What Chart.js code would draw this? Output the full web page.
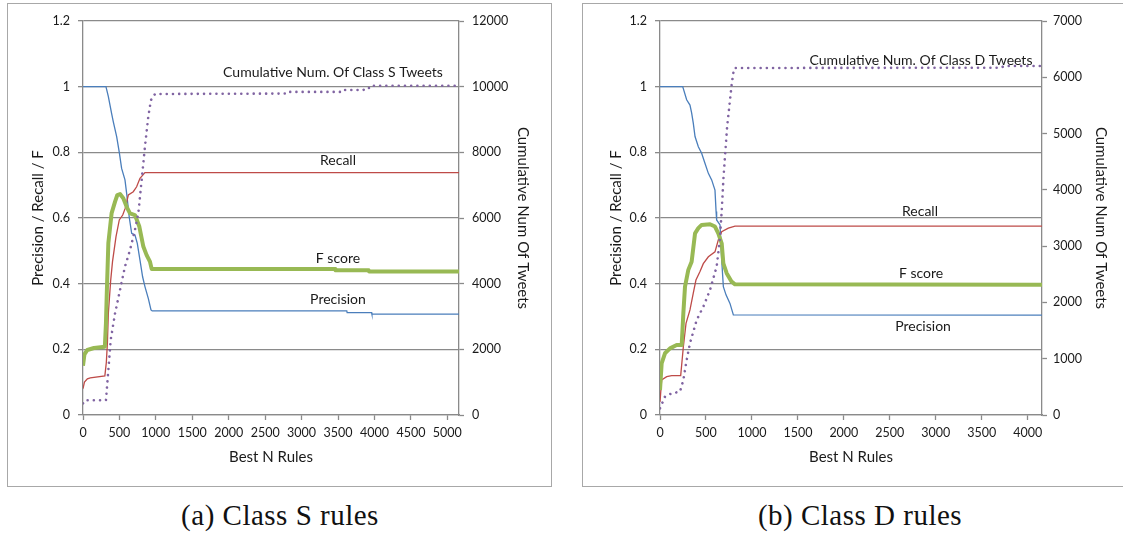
<!DOCTYPE html>
<html>
<head>
<meta charset="utf-8">
<script src="https://cdn.jsdelivr.net/npm/chart.js@4.4.1/dist/chart.umd.min.js"></script>
<style>
  html, body { margin: 0; padding: 0; background: #fff; }
  body { width: 1123px; height: 539px; position: relative; overflow: hidden; }
  .box { position: absolute; border: 1px solid #a8a8a8; box-sizing: border-box; }
  canvas { position: absolute; }
  .cap { position: absolute; font-family: "Liberation Serif", serif; font-size: 29px; letter-spacing: 0.5px; color: #111; transform: translateX(-50%); white-space: nowrap; }
</style>
</head>
<body>
<div class="box" style="left:7px;top:3px;width:545px;height:484px;"></div>
<div class="box" style="left:582px;top:3px;width:600px;height:484px;"></div>
<canvas id="c1" width="544" height="483" style="left:7px;top:3px;"></canvas>
<canvas id="c2" width="541" height="483" style="left:582px;top:3px;"></canvas>
<div class="cap" style="left:280px;top:499px;">(a) Class S rules</div>
<div class="cap" style="left:860px;top:499px;">(b) Class D rules</div>
<script>
// ---------- Tick values ----------
const sXTicks = [0, 500, 1000, 1500, 2000, 2500, 3000, 3500, 4000, 4500, 5000];
const dXTicks = [0, 500, 1000, 1500, 2000, 2500, 3000, 3500, 4000];

// ---------- Data: Class S ----------
const sPrecX = [0, 315, 348, 393, 416, 462, 498, 530, 576, 599, 636, 668, 713, 745, 782, 818, 850, 896, 933, 950, 3620, 3625, 3960, 3965, 5160];
const sPrecY = [1, 1, 0.97, 0.918, 0.893, 0.848, 0.8, 0.751, 0.716, 0.675, 0.6, 0.553, 0.548, 0.523, 0.472, 0.421, 0.391, 0.355, 0.32, 0.317, 0.317, 0.312, 0.312, 0.307, 0.307];
const sRecX = [0, 20, 60, 100, 300, 320, 335, 348, 380, 405, 453, 498, 545, 580, 622, 690, 736, 782, 850, 5160];
const sRecY = [0.08, 0.1, 0.11, 0.113, 0.119, 0.16, 0.22, 0.31, 0.41, 0.467, 0.543, 0.594, 0.609, 0.63, 0.67, 0.68, 0.695, 0.721, 0.738, 0.738];
const sFX = [0, 20, 60, 150, 300, 315, 325, 348, 393, 440, 471, 508, 553, 599, 645, 713, 773, 828, 873, 919, 942, 3460, 3465, 3920, 3925, 5160];
const sFY = [0.15, 0.185, 0.198, 0.204, 0.208, 0.28, 0.36, 0.524, 0.615, 0.65, 0.67, 0.673, 0.66, 0.634, 0.614, 0.609, 0.574, 0.513, 0.487, 0.467, 0.445, 0.445, 0.441, 0.441, 0.437, 0.437];
const sCumX = [0, 30, 315, 348, 380, 440, 508, 576, 645, 713, 759, 805, 850, 896, 933, 988, 2780, 2800, 3550, 3570, 3850, 3870, 3970, 3990, 5160];
const sCumY = [356, 450, 450, 1371, 2284, 3097, 3807, 4518, 5025, 5635, 6143, 7157, 8172, 9086, 9594, 9777, 9790, 9840, 9840, 9900, 9900, 9960, 9960, 10030, 10030];

// ---------- Data: Class D ----------
const dPrecX = [0, 247, 290, 326, 344, 362, 381, 417, 453, 489, 526, 562, 598, 610, 616, 653, 671, 689, 718, 761, 798, 4155];
const dPrecY = [1, 1, 0.96, 0.944, 0.92, 0.889, 0.848, 0.817, 0.797, 0.767, 0.736, 0.716, 0.685, 0.62, 0.594, 0.579, 0.472, 0.391, 0.366, 0.34, 0.305, 0.304];
const dRecX = [0, 18, 73, 127, 225, 254, 283, 326, 362, 391, 435, 471, 526, 598, 634, 671, 743, 816, 4155];
const dRecY = [0.04, 0.107, 0.117, 0.12, 0.12, 0.208, 0.279, 0.32, 0.371, 0.411, 0.437, 0.461, 0.482, 0.497, 0.533, 0.558, 0.569, 0.575, 0.575];
const dFX = [0, 18, 54, 109, 181, 236, 254, 272, 308, 344, 381, 417, 453, 544, 598, 634, 671, 689, 725, 779, 816, 4155];
const dFY = [0.076, 0.157, 0.188, 0.203, 0.213, 0.213, 0.31, 0.391, 0.442, 0.467, 0.553, 0.569, 0.579, 0.581, 0.574, 0.553, 0.523, 0.462, 0.432, 0.406, 0.398, 0.397];
const dCumX = [0, 54, 127, 217, 254, 290, 326, 399, 471, 544, 616, 650, 672, 691, 730, 781, 800, 812, 3700, 3750, 4155];
const dCumY = [119, 325, 385, 414, 622, 977, 1274, 1688, 1924, 2221, 2635, 3100, 3650, 4234, 5122, 5893, 6100, 6165, 6170, 6200, 6200];

// ---------- Labels ----------
const seriesNames = ["Precision", "Recall", "F score"];
const cumNameS = "Cumulative Num. Of Class S Tweets";
const cumNameD = "Cumulative Num. Of Class D Tweets";
const xTitle = "Best N Rules";
const yTitle = "Precision / Recall / F";
const y1Title = "Cumulative Num Of Tweets";

const FONT = "Lato, 'Open Sans', sans-serif";
const GRID = "#8a8a8a";
const TXT = "#1a1a1a";

function pts(xs, ys) { return xs.map((x, i) => ({ x: x, y: ys[i] })); }

const seriesLabelPlugin = {
  id: 'seriesLabels',
  afterDatasetsDraw(chart, args, opts) {
    const ctx = chart.ctx;
    ctx.save();
    ctx.font = "14px " + FONT;
    ctx.fillStyle = TXT;
    ctx.textAlign = "center";
    ctx.textBaseline = "middle";
    (opts.items || []).forEach(it => {
      ctx.fillText(it.text, chart.scales.x.getPixelForValue(it.x), chart.scales.y.getPixelForValue(it.y));
    });
    ctx.restore();
  }
};

function makeChart(id, cfg) {
  const common = (extra) => Object.assign({ pointRadius: 0, pointHoverRadius: 0, tension: 0, fill: false }, extra);
  return new Chart(document.getElementById(id), {
    type: 'line',
    data: {
      datasets: [
        common({ label: seriesNames[0], data: pts(cfg.precX, cfg.precY), borderColor: '#4a7ebb', borderWidth: 1.3, yAxisID: 'y', order: 4 }),
        common({ label: seriesNames[1], data: pts(cfg.recX, cfg.recY), borderColor: '#be4b48', borderWidth: 1.3, yAxisID: 'y', order: 3 }),
        common({ label: seriesNames[2], data: pts(cfg.fX, cfg.fY), borderColor: '#98b954', borderWidth: 4, yAxisID: 'y', order: 2, borderJoinStyle: 'round' }),
        common({ label: cfg.cumName, data: pts(cfg.cumX, cfg.cumY), borderColor: '#8064a2', borderWidth: 2.6, borderDash: [0.01, 6.2], borderCapStyle: 'round', yAxisID: 'y1', order: 1 })
      ]
    },
    options: {
      responsive: false,
      animation: false,
      devicePixelRatio: 1,
      layout: { padding: { top: 18, left: 0, right: 0, bottom: 0 } },
      plugins: {
        legend: { display: false },
        tooltip: { enabled: false },
        seriesLabels: { items: cfg.labels }
      },
      scales: {
        x: {
          type: 'linear', min: 0, max: cfg.xMax,
          ticks: { autoSkip: false, maxRotation: 0, padding: 5, color: TXT, font: { family: FONT, size: 12.5 }, callback: v => String(v) },
          afterBuildTicks: s => { s.ticks = cfg.xTicks.map(v => ({ value: v })); },
          grid: { drawOnChartArea: false, drawTicks: true, tickLength: 5, tickColor: GRID, tickWidth: 1.3 },
          border: { color: GRID, width: 1.3 },
          title: { display: true, text: xTitle, color: TXT, font: { family: FONT, size: 15 }, padding: { top: 20, bottom: 20 } },
          afterFit: s => { s.height = 71; }
        },
        y: {
          position: 'left', min: 0, max: 1.2,
          ticks: { stepSize: 0.2, padding: 8, color: TXT, font: { family: FONT, size: 12.5 }, callback: v => String(Math.round(v * 10) / 10) },
          grid: { color: GRID, lineWidth: 1.3, drawTicks: true, tickLength: 5, tickColor: GRID },
          border: { color: GRID, width: 1.3 },
          title: { display: true, text: yTitle, color: TXT, font: { family: FONT, size: 15 }, padding: { top: cfg.yTitlePad, bottom: cfg.yTitlePad } },
          afterFit: s => { s.width = cfg.yWidth; }
        },
        y1: {
          position: 'right', min: 0, max: cfg.y1Max,
          ticks: { stepSize: cfg.y1Step, padding: cfg.y1TickPad, color: TXT, font: { family: FONT, size: 12.5 }, callback: v => String(v) },
          grid: { drawOnChartArea: false, drawTicks: true, tickLength: 5, tickColor: GRID, tickWidth: 1.3 },
          border: { color: GRID, width: 1.3 },
          title: { display: true, text: y1Title, color: TXT, font: { family: FONT, size: 15 }, padding: { top: cfg.y1TitlePad, bottom: cfg.y1TitlePad } },
          afterFit: s => { s.width = cfg.y1Width; }
        }
      }
    },
    plugins: [seriesLabelPlugin]
  });
}

makeChart('c1', {
  precX: sPrecX, precY: sPrecY, recX: sRecX, recY: sRecY, fX: sFX, fY: sFY, cumX: sCumX, cumY: sCumY,
  cumName: cumNameS, xMax: 5160, xTicks: sXTicks, y1Max: 12000, y1Step: 2000,
  yWidth: 76, yTitlePad: 22, y1Width: 92, y1TitlePad: 19, y1TickPad: 8,
  labels: [
    { text: cumNameS, x: 3431, y: 1.042 },
    { text: seriesNames[1], x: 3499, y: 0.774 },
    { text: seriesNames[2], x: 3499, y: 0.478 },
    { text: seriesNames[0], x: 3499, y: 0.353 }
  ]
});

makeChart('c2', {
  precX: dPrecX, precY: dPrecY, recX: dRecX, recY: dRecY, fX: dFX, fY: dFY, cumX: dCumX, cumY: dCumY,
  cumName: cumNameD, xMax: 4155, xTicks: dXTicks, y1Max: 7000, y1Step: 1000,
  yWidth: 78, yTitlePad: 25, y1Width: 81, y1TitlePad: 13, y1TickPad: 6,
  labels: [
    { text: cumNameD, x: 2839, y: 1.081 },
    { text: seriesNames[1], x: 2828, y: 0.621 },
    { text: seriesNames[2], x: 2839, y: 0.430 },
    { text: seriesNames[0], x: 2861, y: 0.271 }
  ]
});
</script>
</body>
</html>
